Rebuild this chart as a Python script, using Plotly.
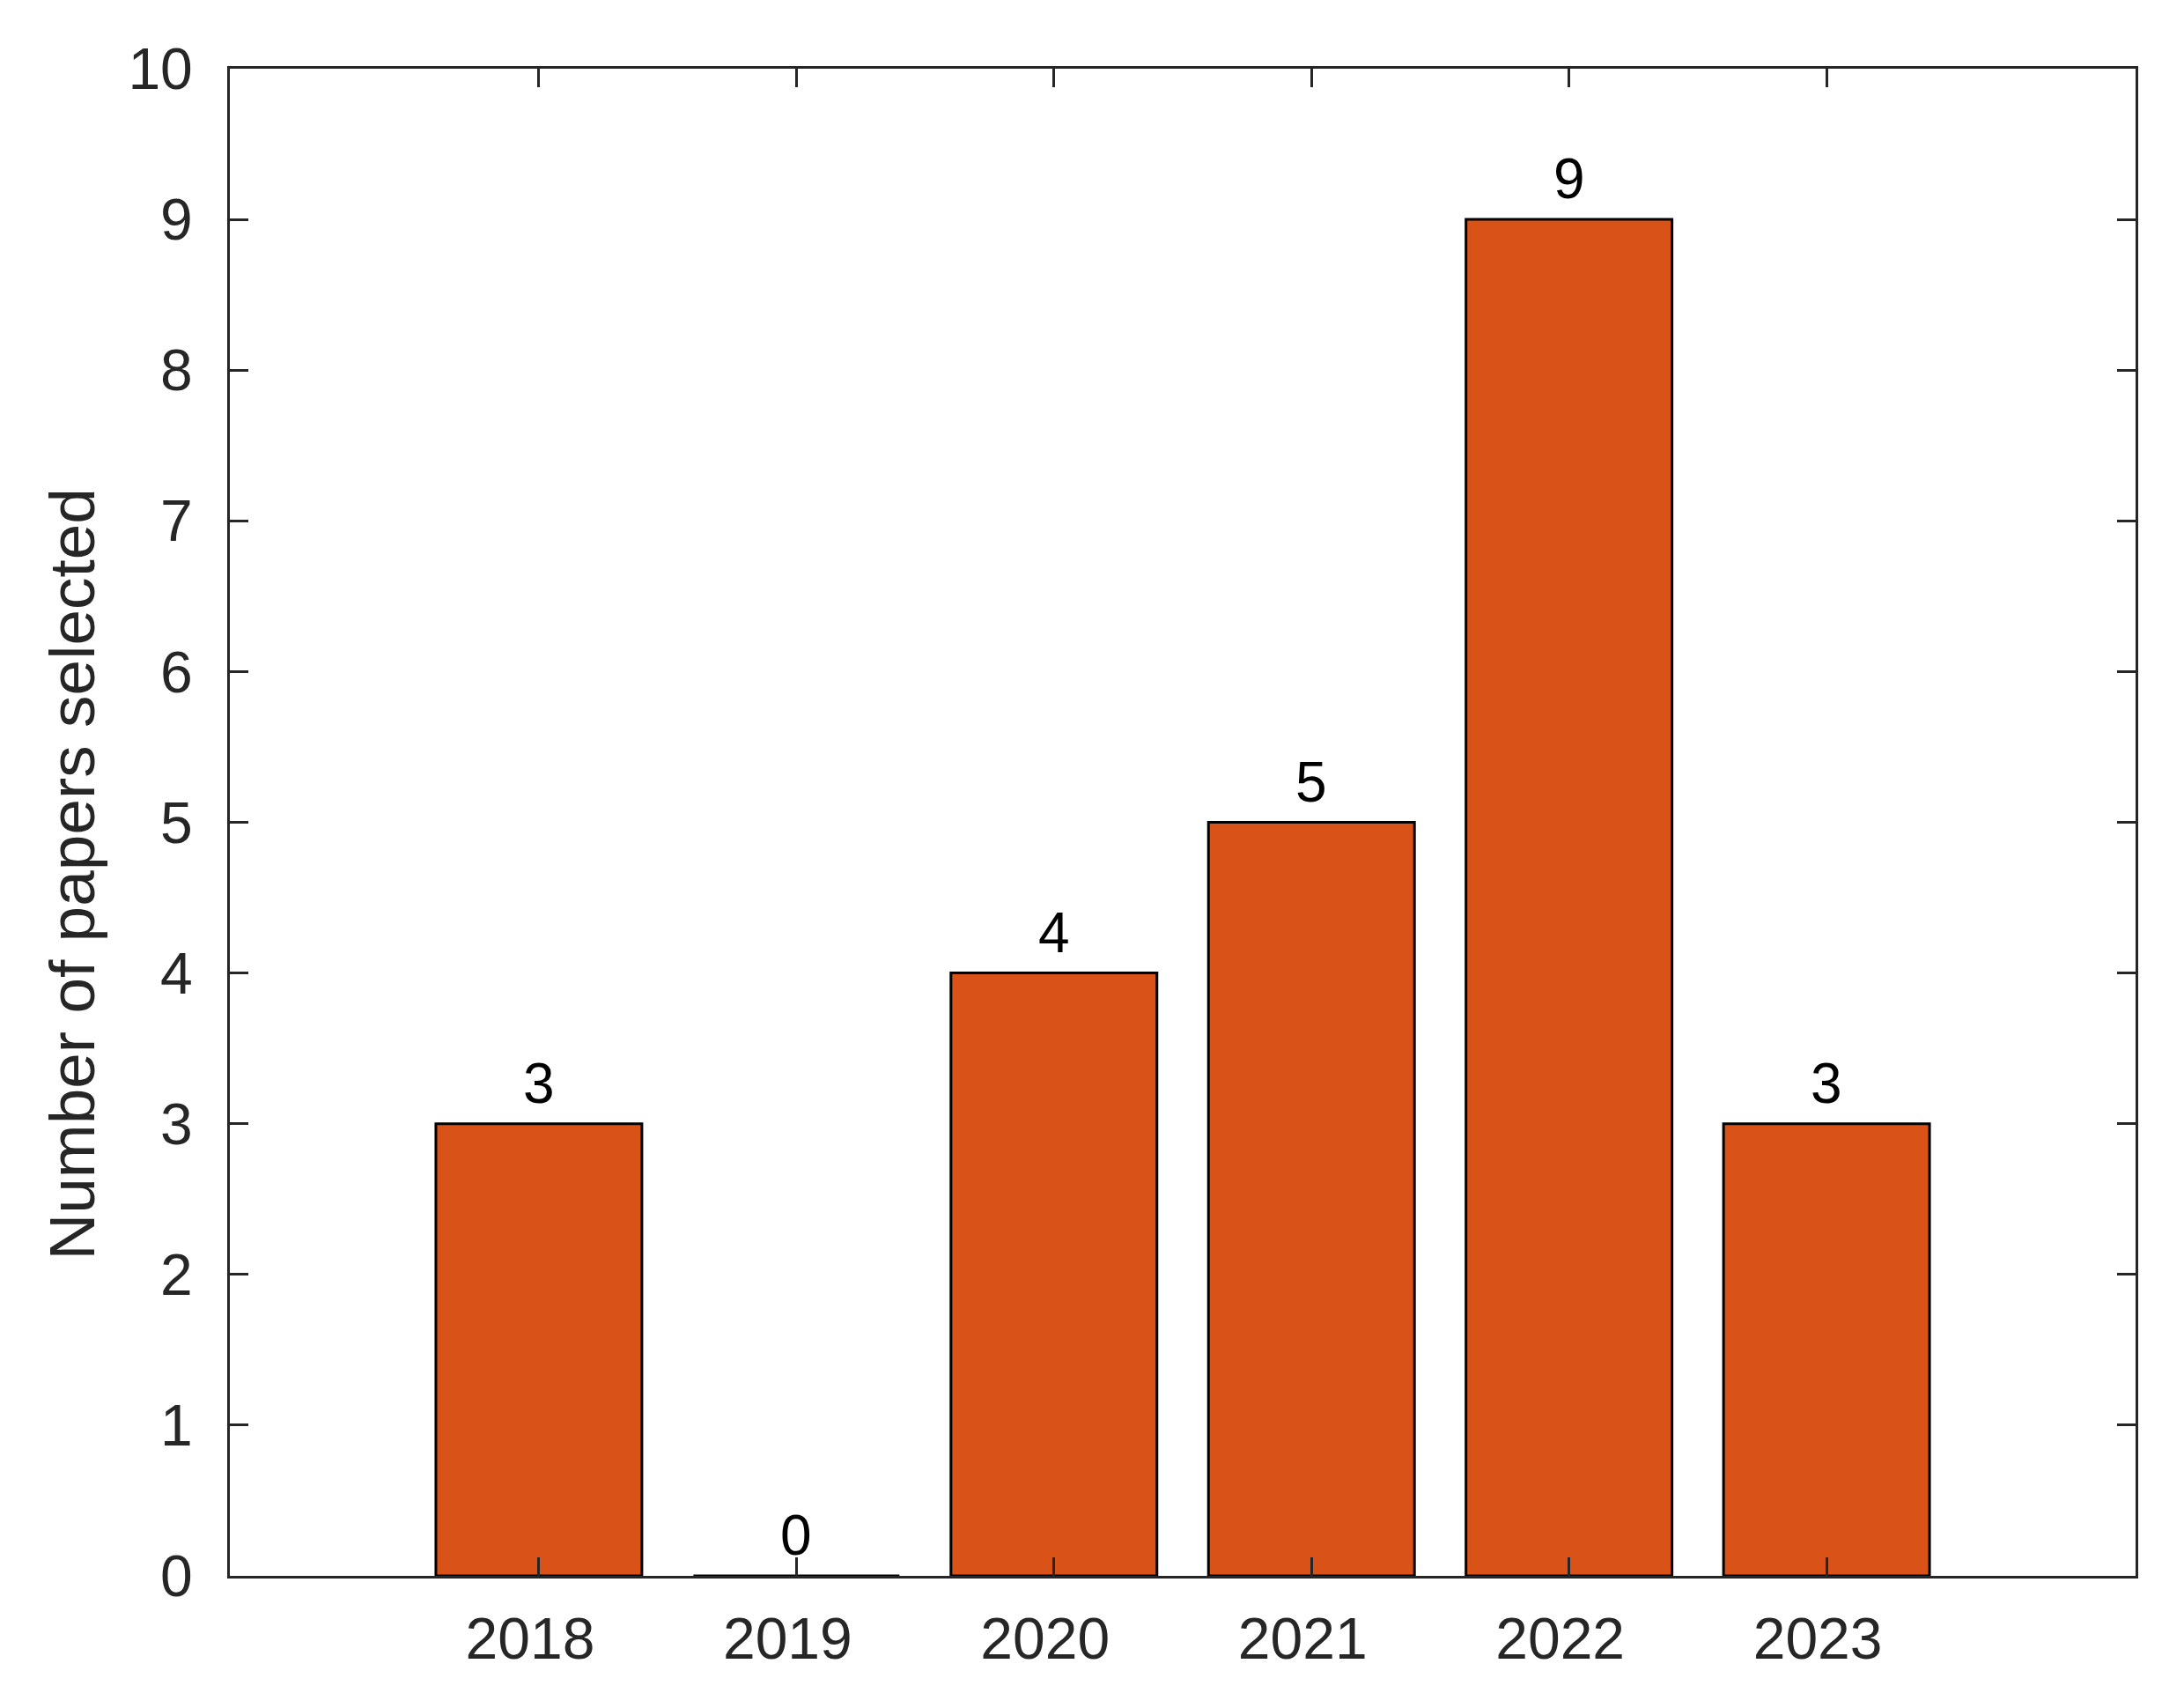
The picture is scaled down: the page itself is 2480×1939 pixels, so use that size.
import plotly.graph_objects as go

years = [2018, 2019, 2020, 2021, 2022, 2023]
papers = [3, 0, 4, 5, 9, 3]
y_ticks = list(range(0, 11))
y_title = "Number of papers selected"

AX = "#262626"
FONT = "Liberation Sans, Arial, Helvetica, sans-serif"

fig = go.Figure()
fig.add_trace(go.Bar(
    x=years, y=papers, width=0.8,
    marker=dict(color="#D95319", line=dict(color="black", width=3)),
))

for yr, v in zip(years, papers):
    fig.add_annotation(x=yr, y=v, text=str(v), showarrow=False,
                       xanchor="center", yanchor="bottom", yshift=8,
                       font=dict(family=FONT, size=64, color="black"))

# y-axis title (placed like the original, slightly below centre)
fig.add_annotation(xref="paper", yref="paper", x=0, y=0.5, text=y_title,
                   showarrow=False, textangle=-90, xanchor="center", yanchor="middle",
                   xshift=-180, yshift=-59,
                   font=dict(family=FONT, size=73, color=AX))

axis_common = dict(
    showline=True, linecolor=AX, linewidth=3, mirror="ticks",
    ticks="inside", ticklen=21, tickwidth=3, tickcolor=AX,
    showgrid=False, zeroline=False,
    tickfont=dict(family=FONT, size=66, color=AX),
)

fig.update_layout(
    width=2480, height=1939,
    margin=dict(l=253, r=63, t=70, b=158),
    paper_bgcolor="white", plot_bgcolor="white",
    showlegend=False,
    xaxis=dict(range=[2016.8, 2024.2], tickvals=years, ticktext=[str(y) for y in years],
               ticklabelstandoff=12, ticklabelshift=-10, **axis_common),
    yaxis=dict(range=[0, 10], tickvals=y_ticks, ticklabelstandoff=26, **axis_common),
)

fig.write_html("out.html")
